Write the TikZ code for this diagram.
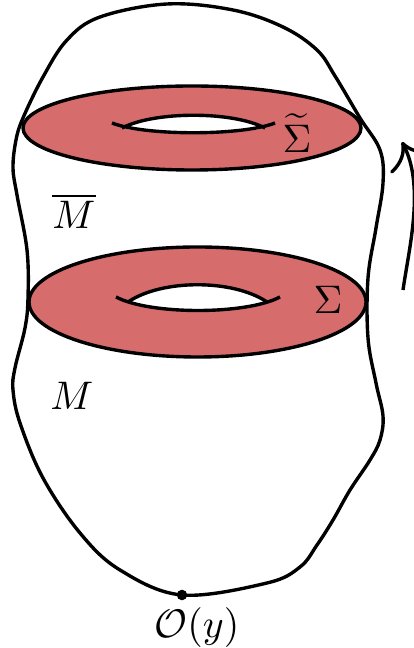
\documentclass[tikz,border=0pt]{standalone}
\usepackage{amsmath,amssymb}
\usetikzlibrary{arrows.meta}
\usepackage{xcolor}
\definecolor{crose}{RGB}{215,108,108}

\begin{document}
\begin{tikzpicture}[scale=0.8819, >={To[scale=1.7]}, line width=0.85pt]
\useasboundingbox (0,0) rectangle (4.14,6.48);
\clip (0,0) rectangle (4.14,6.48);
% bord de la variete
\draw plot[smooth cycle, tension=0.6] coordinates {(1.67,6.44) (2.33,6.38) (2.83,6.21) (3.17,5.98) (3.35,5.72) (3.60,5.30) (3.80,4.98) (3.83,4.65) (3.76,4.20) (3.68,3.70) (3.68,3.10) (3.76,2.65) (3.83,2.32) (3.80,2.08) (3.70,1.88) (3.50,1.58) (3.33,1.28) (3.17,1.03) (3.00,0.81) (2.67,0.65) (1.82,0.53) (1.20,0.78) (0.80,1.15) (0.43,1.70) (0.20,2.25) (0.13,2.58) (0.15,2.80) (0.25,3.20) (0.28,3.50) (0.27,3.98) (0.17,4.53) (0.13,4.80) (0.16,5.08) (0.23,5.30) (0.43,5.71) (0.67,6.08) (1.00,6.31)};
% tore du haut
\draw[fill=crose] (1.92,5.20) ellipse (1.69 and 0.42);
\fill[white] (1.22,5.20) .. controls (1.55,5.37) and (2.32,5.37) .. (2.65,5.20) .. controls (2.32,5.13) and (1.55,5.13) .. cycle;
\draw (1.12,5.25) .. controls (1.45,5.12) and (2.42,5.12) .. (2.75,5.25);
\draw (1.22,5.20) .. controls (1.55,5.37) and (2.32,5.37) .. (2.65,5.20);
% tore du bas
\draw[fill=crose] (1.975,3.46) ellipse (1.685 and 0.55);
\fill[white] (1.28,3.46) .. controls (1.62,3.69) and (2.33,3.69) .. (2.67,3.46) .. controls (2.35,3.36) and (1.60,3.36) .. cycle;
\draw (1.16,3.51) .. controls (1.50,3.33) and (2.46,3.33) .. (2.80,3.51);
\draw (1.28,3.46) .. controls (1.62,3.69) and (2.33,3.69) .. (2.67,3.46);
% etiquettes
\node (sigt) at (2.97,5.15) {$\widetilde{\Sigma}$};
\node (sig) at (3.28,3.48) {$\Sigma$};
\node (mbar) at (0.74,4.37) {$\overline{M}$};
\node (m) at (0.72,2.52) {$M$};
\coordinate (O) at (1.82,0.53);
\fill (O) circle (1.5pt);
\node (oy) at (1.97,0.20) {$\mathcal{O}(y)$};
% fleche
\coordinate (a0) at (4.03,3.58);
\coordinate (a1) at (4.02,5.06);
\draw[->] (a0) .. controls (4.09,4.00) and (4.25,4.62) .. (a1);
\end{tikzpicture}
\end{document}
